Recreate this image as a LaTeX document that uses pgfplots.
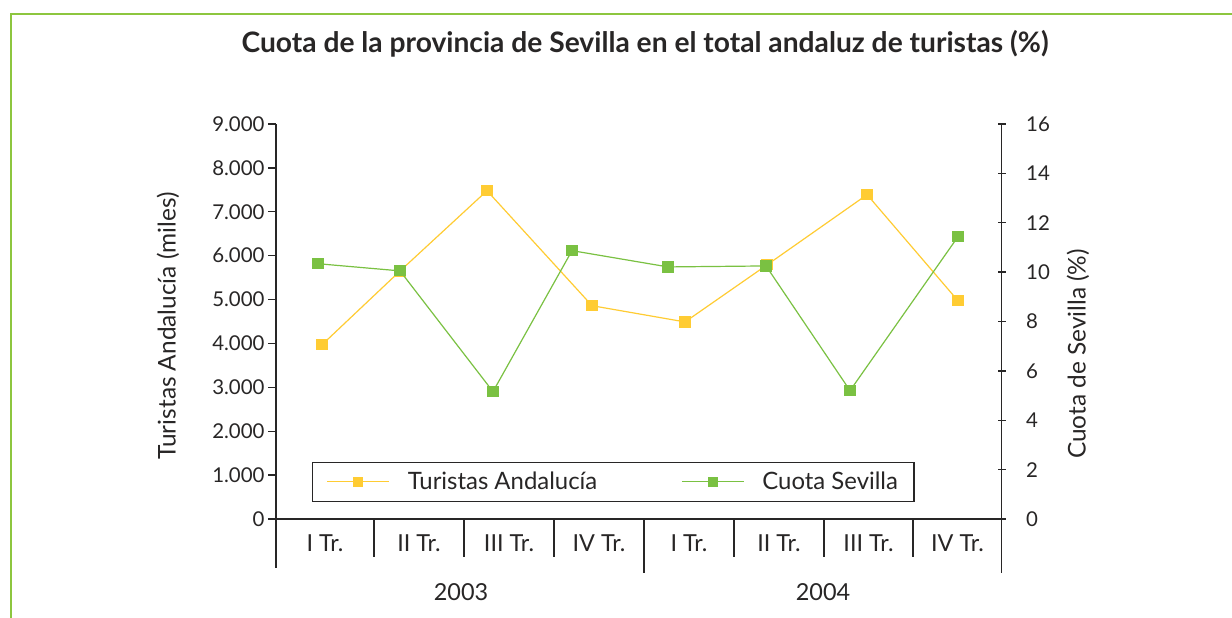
\documentclass[border=0pt]{standalone}
\usepackage{fontspec}
\setmainfont{Lato}
\usepackage{pgfplots}
\pgfplotsset{compat=1.18}
\definecolor{tyellow}{RGB}{255,204,51}
\definecolor{tgreen}{RGB}{122,193,66}
\definecolor{framegreen}{RGB}{141,198,63}
\definecolor{axgray}{RGB}{40,38,38}
\begin{document}
\begin{tikzpicture}[x=1bp,y=1bp]
\useasboundingbox (0,0) rectangle (1232,618);
\fill[white] (0,0) rectangle (1232,618);
\draw[framegreen, line width=2.6bp] (11,0) -- (11,604) -- (1232,604);
\node[font=\fontsize{28.3}{32}\selectfont\bfseries, anchor=base, text=axgray] at (645,565) {Cuota de la provincia de Sevilla en el total andaluz de turistas (\%)};

\begin{axis}[
  at={(276bp,99bp)}, anchor=south west, scale only axis,
  width=725.7bp, height=395bp,
  xmin=-0.5, xmax=7.5, ymin=0, ymax=9000,
  axis y line*=left, axis x line*=bottom,
  axis line style={axgray, line width=1.3bp, -},
  xtick=\empty,
  ytick={0,1000,2000,3000,4000,5000,6000,7000,8000,9000},
  yticklabels={0,1.000,2.000,3.000,4.000,5.000,6.000,7.000,8.000,9.000},
  tick align=outside, major tick length=8bp,
  every tick/.style={axgray, line width=1.3bp},
  tick label style={font=\fontsize{20.5}{24}\selectfont, text=axgray},
  /pgf/number format/assume math mode=true,
  clip=false,
]
\addplot[tyellow, line width=1.2bp, mark=square*, mark size=5bp, mark options={fill=tyellow, draw=tyellow}]
  coordinates {(0.007,3970) (0.867,5650) (1.826,7480) (2.984,4860) (4.009,4490) (4.913,5790) (6.016,7390) (7.019,4970)};
\end{axis}

\begin{axis}[
  at={(276bp,99bp)}, anchor=south west, scale only axis,
  width=725.7bp, height=395bp,
  xmin=-0.5, xmax=7.5, ymin=0, ymax=16,
  axis y line*=right, axis x line=none,
  axis line style={axgray, line width=1.3bp, -},
  ytick={0,2,4,6,8,10,12,14,16},
  tick align=center, major tick length=8bp,
  every tick/.style={axgray, line width=1.3bp},
  tick label style={font=\fontsize{20.5}{24}\selectfont, text=axgray},
  yticklabel style={xshift=17bp},
  /pgf/number format/assume math mode=true,
  clip=false,
  legend columns=2,
  legend style={at={(0.0496,0.043)}, anchor=south west, draw=axgray, line width=1.2bp, fill=white,
    font=\fontsize{24}{28}\selectfont, text=axgray, inner xsep=14bp, inner ysep=8bp,
    /tikz/every even column/.append style={column sep=82bp},
    /tikz/every odd column/.append style={column sep=16bp}},
  legend image code/.code={\draw[mark repeat=2,mark phase=2,#1] plot coordinates {(0bp,0bp) (31bp,0bp) (62bp,0bp)};},
  legend image post style={mark size=4.2bp},
]
\addlegendimage{tyellow, line width=1.2bp, mark=square*, mark options={fill=tyellow, draw=tyellow}}
\addlegendentry{Turistas Andalucía}
\addplot[tgreen, line width=1.2bp, mark=square*, mark size=5bp, mark options={fill=tgreen, draw=tgreen}]
  coordinates {(-0.037,10.34) (0.867,10.05) (1.892,5.16) (2.763,10.87) (3.822,10.21) (4.902,10.25) (5.828,5.20) (7.019,11.44)};
\addlegendentry{Cuota Sevilla}
\end{axis}

% category table lines below the axis
\begin{scope}[axgray, line width=1.2bp]
\draw (276,99) -- (276,50);
\draw (1001.7,99) -- (1001.7,45);
\foreach \xx in {374,464,554,734,824,913} {\draw (\xx,99) -- (\xx,61);}
\draw (644,99) -- (644,45);
\end{scope}
\foreach \xx/\lab in {325/I Tr.,419/II Tr.,509/III Tr.,599/IV Tr.,689/I Tr.,779/II Tr.,868.5/III Tr.,957.5/IV Tr.}
  {\node[anchor=base, font=\fontsize{23.5}{27}\selectfont, text=axgray] at (\xx,66) {\lab};}
\node[anchor=base, font=\fontsize{23.5}{27}\selectfont, text=axgray] at (461,17) {2003};
\node[anchor=base, font=\fontsize{23.5}{27}\selectfont, text=axgray] at (823,17) {2004};

\node[rotate=90, font=\fontsize{24.5}{28}\selectfont, text=axgray] at (168,292) {Turistas Andalucía (miles)};
\node[rotate=90, font=\fontsize{24.5}{28}\selectfont, text=axgray] at (1078,264) {Cuota de Sevilla (\%)};
\end{tikzpicture}
\end{document}
